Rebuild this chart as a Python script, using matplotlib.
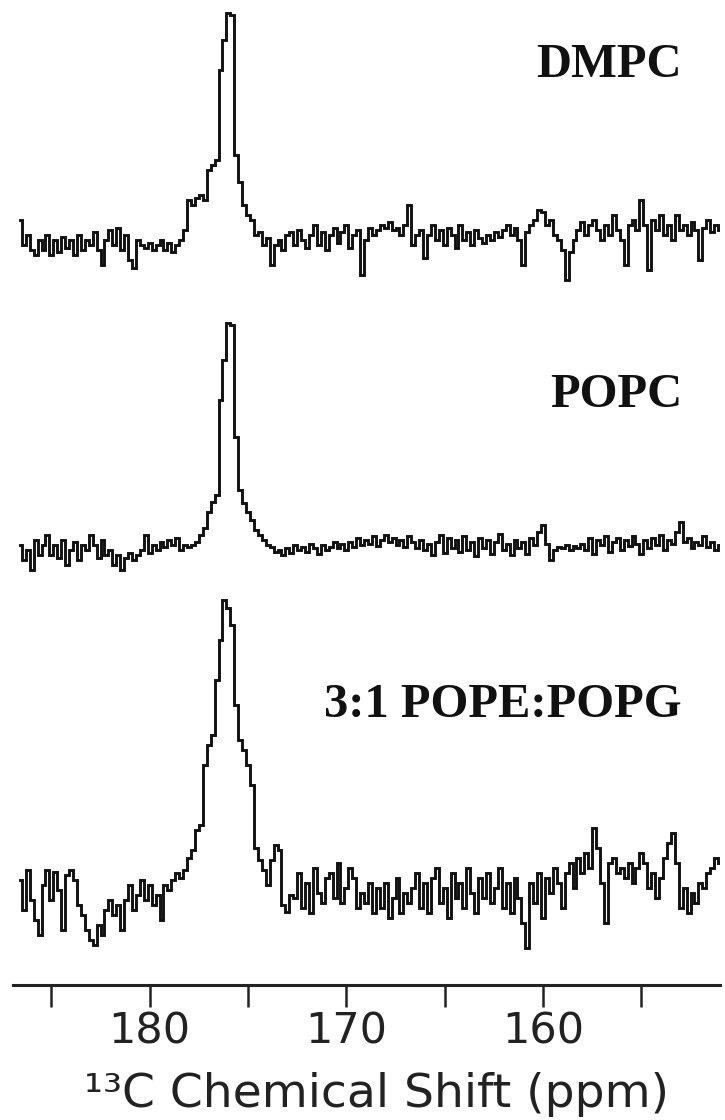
import numpy as np
import matplotlib
matplotlib.use("Agg")
import matplotlib.pyplot as plt
from matplotlib.ticker import FixedLocator, FixedFormatter

# ---------------- data ----------------
PPM_START, PPM_END = 186.6, 151.0          # sampling range of the spectra (ppm)
names = ["DMPC", "POPC", "3:1 POPE:POPG"]
offsets = [745, 435, 92]                   # vertical stacking offsets (a.u.)

dmpc = [20, -5, 5, -10, -15, 0, -10, 5, -15, 0,
        -12, 3, -8, 0, -15, 5, -10, 0, -5, 8,
        -10, -25, 0, 10, -5, 12, -10, 5, -20, -28,
        0, -5, -8, -3, -10, -5, 0, -10, -3, -12,
        -5, 0, 10, 40, 35, 42, 45, 40, 70, 75,
        80, 170, 200, 227, 225, 85, 58, 35, 25, 20,
        5, 8, -5, 2, -25, -5, 0, -10, 5, 8,
        -5, 10, 0, -8, 5, 15, -5, 8, -10, 5,
        12, -3, 8, 15, -8, 5, 10, -35, 0, 12,
        5, 10, 15, 12, 18, 10, 12, 5, 15, 35,
        -5, 5, 10, -18, 5, 15, 0, 10, -5, 12,
        5, -8, 15, 0, 8, -5, 10, 2, -3, 5,
        0, 8, 3, 10, 15, 5, 12, 0, -25, 8,
        15, 20, 30, 28, 15, 20, 5, 0, -10, -40,
        -12, 0, 10, 18, 5, 15, 20, 10, 0, 15,
        5, 25, 10, 0, -25, 15, 20, 10, 40, 15,
        -30, 20, 10, 25, 5, 15, 0, 25, 10, 15,
        5, 18, 10, -20, 12, 20, 8, 15, 10]

popc = [5, -10, 0, -20, 10, -5, 5, 15, -5, 5,
        -8, 10, -15, 0, 8, -10, 5, 0, 15, 5,
        -8, 10, -5, 0, -15, -5, -20, -8, -3, -10,
        -5, 0, 15, -3, 5, 0, 8, 3, 10, 5,
        12, 0, 5, 3, 5, 8, 15, 22, 38, 48,
        55, 150, 190, 227, 225, 113, 60, 47, 38, 30,
        20, 15, 10, 5, 3, -2, 0, -5, 2, -3,
        5, 0, 3, -2, 6, 2, -4, 5, 0, 3,
        8, 2, 6, 0, 8, 3, 12, 5, 10, 6,
        14, 4, 10, 15, 8, 12, 5, 10, 3, 14,
        8, 2, 10, 0, 6, -5, 8, 15, -3, 12,
        2, 10, -2, 14, 0, 8, -6, 12, 2, 10,
        -4, 8, 16, 0, 6, -5, 10, 2, 8, -4,
        12, 5, 18, 25, 6, -10, 0, 3, 2, 5,
        0, 4, 2, 6, 0, 12, -4, 10, 5, 14,
        -2, 8, 12, 0, 10, 4, 14, 6, -4, 10,
        2, 12, 5, 15, 0, 10, 6, 18, 28, 8,
        12, 2, 8, 5, 14, 3, 8, 0, 5]

pope_popg = [13, -17, 23, -7, -27, -42, 8, 23, -7, 21,
             3, -37, 18, 23, 13, -12, -22, -37, -47, -52,
             -32, -42, -17, -7, -22, -12, -37, -7, 8, -17,
             -2, 13, -7, 8, -12, -2, -27, 8, 3, 13,
             20, 15, 23, 35, 43, 63, 68, 128, 148, 158,
             213, 253, 293, 285, 268, 188, 153, 143, 128, 108,
             45, 33, 23, 8, 33, 48, 43, -12, -19, -2,
             -5, 20, -15, 10, -20, 25, 0, -10, 15, 20,
             -5, 30, -10, 5, 25, 15, -15, 0, -10, 10,
             -20, 5, -15, 10, -25, -5, 15, -20, 0, -10,
             5, 20, -15, 10, -20, 15, 25, -10, 5, -25,
             20, -5, 10, -15, 25, 0, -20, 15, -5, 20,
             -10, 5, 25, -15, 10, -20, 15, -5, -30, -55,
             10, -10, 20, -25, 15, 0, 25, 10, -15, 20,
             30, 5, 35, 20, 40, 25, 65, 45, 10, -30,
             30, 35, 20, 25, 15, 30, 10, 25, 40, 30,
             5, 20, -5, 15, 35, 50, 60, 30, -15, 5,
             -20, 0, -10, 10, 5, 20, 25, 35, 30]

spectra = [dmpc, popc, pope_popg]
tick_positions = [185, 180, 175, 170, 165, 160, 155]
tick_labels = ["", "180", "", "170", "", "160", ""]
x_label = "\u00b9\u00b3C Chemical Shift (ppm)"

# ---------------- figure ----------------
W, H = 725, 1120
fig = plt.figure(figsize=(W / 100, H / 100), dpi=100)
ax = fig.add_axes([13 / W, (H - 985) / H, 707 / W, 985 / H])

for vals, off in zip(spectra, offsets):
    y = np.asarray(vals, dtype=float) + off
    x = np.linspace(PPM_START, PPM_END, len(vals))
    ax.plot(x, y, drawstyle="steps-mid", color="#111111", lw=2.1,
            solid_joinstyle="miter")

ax.set_xlim(186.95, 151.0)
ax.set_ylim(0, 985)

for s in ["left", "right", "top"]:
    ax.spines[s].set_visible(False)
ax.spines["bottom"].set_linewidth(2.2)
ax.spines["bottom"].set_color("#222222")
ax.set_yticks([])

sans = ["DejaVu Sans"]
ax.xaxis.set_major_locator(FixedLocator(tick_positions))
ax.xaxis.set_major_formatter(FixedFormatter(tick_labels))
ax.tick_params(axis="x", direction="out", length=16, width=1.8,
               color="#222222", pad=2, labelsize=31)
for lab in ax.get_xticklabels():
    lab.set_family(sans)
    lab.set_color("#222222")

ax.set_xlabel(x_label, fontsize=34, family=sans, color="#222222")
ax.xaxis.label.set_va("baseline")
ax.xaxis.set_label_coords((376 - 13) / 707, (985 - 1107) / 985)

label_baselines = [77, 407, 717]
for name, yb in zip(names, label_baselines):
    fig.text(682 / W, 1 - yb / H, name, ha="right", va="baseline",
             fontsize=35, fontweight="bold", family="Liberation Serif",
             color="#111111")

fig.savefig("out.png", dpi=100, facecolor="white")
